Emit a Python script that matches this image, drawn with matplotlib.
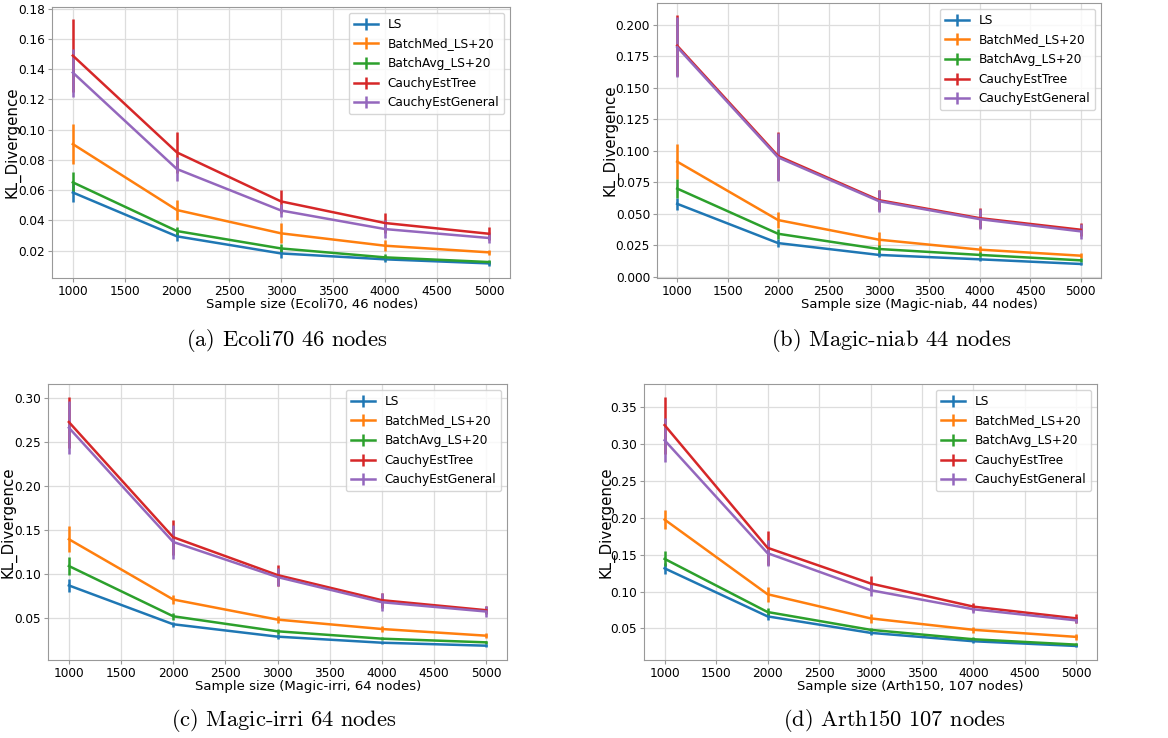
import matplotlib.pyplot as plt

plt.rcParams['mathtext.fontset'] = 'cm'

sizes = [1000, 2000, 3000, 4000, 5000]
methods = ["LS", "BatchMed_LS+20", "BatchAvg_LS+20", "CauchyEstTree", "CauchyEstGeneral"]

# (a) Ecoli70
ecoli_mean = [
    [0.0585, 0.0295, 0.0182, 0.0143, 0.0116],
    [0.0905, 0.0469, 0.0315, 0.0233, 0.0189],
    [0.0652, 0.0330, 0.0215, 0.0156, 0.0125],
    [0.1490, 0.0850, 0.0526, 0.0383, 0.0312],
    [0.1378, 0.0740, 0.0466, 0.0343, 0.0284],
]
ecoli_err = [
    [0.0066, 0.0030, 0.0030, 0.0020, 0.0015],
    [0.0134, 0.0063, 0.0066, 0.0035, 0.0018],
    [0.0066, 0.0030, 0.0030, 0.0020, 0.0015],
    [0.0240, 0.0136, 0.0075, 0.0066, 0.0042],
    [0.0159, 0.0077, 0.0044, 0.0058, 0.0036],
]

# (b) Magic-niab
niab_mean = [
    [0.0578, 0.0266, 0.0172, 0.0137, 0.0100],
    [0.0913, 0.0449, 0.0293, 0.0214, 0.0166],
    [0.0699, 0.0340, 0.0219, 0.0172, 0.0129],
    [0.1834, 0.0958, 0.0607, 0.0464, 0.0372],
    [0.1823, 0.0947, 0.0599, 0.0456, 0.0359],
]
niab_err = [
    [0.0050, 0.0030, 0.0020, 0.0015, 0.0012],
    [0.0138, 0.0063, 0.0060, 0.0030, 0.0020],
    [0.0076, 0.0040, 0.0030, 0.0020, 0.0015],
    [0.0240, 0.0190, 0.0082, 0.0077, 0.0050],
    [0.0240, 0.0190, 0.0086, 0.0079, 0.0062],
]

# (c) Magic-irri
irri_mean = [
    [0.0866, 0.0424, 0.0283, 0.0214, 0.0180],
    [0.1392, 0.0706, 0.0477, 0.0370, 0.0294],
    [0.1087, 0.0515, 0.0344, 0.0260, 0.0218],
    [0.2726, 0.1415, 0.0984, 0.0698, 0.0584],
    [0.2661, 0.1361, 0.0961, 0.0675, 0.0569],
]
irri_err = [
    [0.0070, 0.0030, 0.0030, 0.0020, 0.0020],
    [0.0147, 0.0050, 0.0040, 0.0030, 0.0030],
    [0.0105, 0.0040, 0.0030, 0.0020, 0.0020],
    [0.0290, 0.0200, 0.0120, 0.0084, 0.0046],
    [0.0300, 0.0196, 0.0105, 0.0105, 0.0060],
]

# (d) Arth150
arth_mean = [
    [0.1315, 0.0664, 0.0441, 0.0327, 0.0263],
    [0.1975, 0.0964, 0.0637, 0.0482, 0.0386],
    [0.1443, 0.0723, 0.0482, 0.0354, 0.0281],
    [0.3255, 0.1593, 0.1110, 0.0796, 0.0637],
    [0.3050, 0.1520, 0.1019, 0.0760, 0.0610],
]
arth_err = [
    [0.0075, 0.0050, 0.0030, 0.0030, 0.0020],
    [0.0130, 0.0100, 0.0060, 0.0040, 0.0040],
    [0.0102, 0.0050, 0.0030, 0.0030, 0.0020],
    [0.0387, 0.0228, 0.0105, 0.0055, 0.0064],
    [0.0300, 0.0180, 0.0080, 0.0050, 0.0040],
]

panels = [
    (ecoli_mean, ecoli_err, "Sample size (Ecoli70, 46 nodes)", r"$\text{(a) Ecoli70 46 nodes}$"),
    (niab_mean, niab_err, "Sample size (Magic-niab, 44 nodes)", r"$\text{(b) Magic-niab 44 nodes}$"),
    (irri_mean, irri_err, "Sample size (Magic-irri, 64 nodes)", r"$\text{(c) Magic-irri 64 nodes}$"),
    (arth_mean, arth_err, "Sample size (Arth150, 107 nodes)", r"$\text{(d) Arth150 107 nodes}$"),
]

# axes rectangles in pixels: left, top, right, bottom
W, H = 1168, 738
boxes = [(52, 7, 510, 278), (657, 3, 1101, 278), (48, 384, 507, 660), (644, 384, 1097, 660)]
ylabel_x = [21, 618, 17, 614]
xlabel_x = [312, 919, 308, 910]
caption_pos = [(287, 340), (891, 340), (284, 720), (895, 720)]

fig = plt.figure(figsize=(W / 100, H / 100), dpi=100)

for (means, errs, xlab, cap), (l, t, r, b), yx, xx, (cx, cy) in zip(
        panels, boxes, ylabel_x, xlabel_x, caption_pos):
    ax = fig.add_axes([l / W, 1 - b / H, (r - l) / W, (b - t) / H])
    for name, m, e in zip(methods, means, errs):
        ax.errorbar(sizes, m, yerr=e, lw=1.8, elinewidth=1.8, label=name)
    ax.grid(True, color='#dddddd', lw=0.9)
    ax.set_axisbelow(True)
    for s in ax.spines.values():
        s.set_color('#999999')
    ax.tick_params(labelsize=8.7, color='#999999', length=3, pad=2)
    ax.set_xticks([1000, 1500, 2000, 2500, 3000, 3500, 4000, 4500, 5000])
    ax.set_xlabel(xlab, fontsize=9.5, labelpad=0)
    ax.xaxis.label.set_x((xx - l) / (r - l))
    ax.set_ylabel("KL_Divergence", fontsize=10.8)
    ax.yaxis.set_label_coords((yx - l) / (r - l), 0.5)
    ax.legend(loc='upper right', fontsize=8.7, labelspacing=0.55)
    fig.text(cx / W, 1 - cy / H, cap, fontsize=16.2, ha='center', va='center')

fig.savefig("out.png", dpi=100)
